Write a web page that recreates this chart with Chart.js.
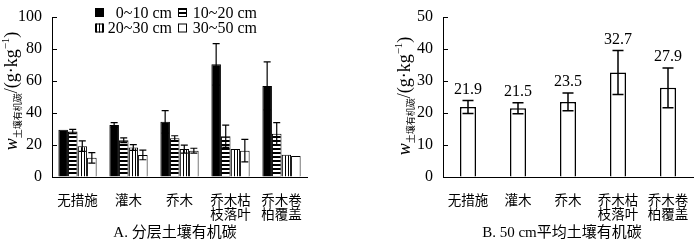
<!DOCTYPE html>
<html lang="zh">
<head>
<meta charset="utf-8">
<title>土壤有机碳</title>
<script src="https://cdn.jsdelivr.net/npm/chart.js@4.4.1/dist/chart.umd.min.js"></script>
<style>
  html, body { margin: 0; padding: 0; background: #fff; }
  #wrap { display: flex; width: 700px; height: 241px; }
  canvas { display: block; }
</style>
</head>
<body>
<div id="wrap">
  <canvas id="chartA" width="350" height="241"></canvas>
  <canvas id="chartB" width="350" height="241"></canvas>
</div>
<script>
"use strict";

// categories
const treatments = ["无措施", "灌木", "乔木", ["乔木枯", "枝落叶"], ["乔木卷", "柏覆盖"]];
const depthLabels = ["0~10 cm", "10~20 cm", "20~30 cm", "30~50 cm"];

// A. layered soil organic carbon (g/kg) and error bars
const soc0to10 = [29.5, 32.5, 34.5, 70.5, 57];
const soc0to10Err = [0, 1.5, 7, 13, 15];
const soc10to20 = [28.5, 23, 24.3, 25.5, 27];
const soc10to20Err = [1.3, 1.5, 1.5, 7, 7];
const soc20to30 = [19.3, 18.5, 17.5, 17.5, 14];
const soc20to30Err = [3.3, 1.8, 2.5, 0, 0];
const soc30to50 = [12, 13.8, 16.5, 16.5, 13.2];
const soc30to50Err = [3.3, 3, 1.5, 7, 0];

// B. 50 cm mean soil organic carbon
const socMean = [21.9, 21.5, 23.5, 32.7, 27.9];
const socMeanErr = [2.0, 1.7, 2.8, 6.9, 6.2];

// ticks
const ticksA = { min: 0, max: 100, step: 20 };
const ticksB = { min: 0, max: 50, step: 10 };

const serif = "'Liberation Serif', 'Noto Sans CJK SC', serif";

Chart.defaults.color = "#000";
Chart.defaults.font.family = serif;

function makePattern(kind) {
  const c = document.createElement("canvas");
  const g = c.getContext("2d");
  if (kind === "h") {
    c.width = 4; c.height = 4;
    g.fillStyle = "#fff"; g.fillRect(0, 0, 4, 4);
    g.fillStyle = "#000"; g.fillRect(0, 0, 4, 2);
  } else {
    c.width = 3; c.height = 3;
    g.fillStyle = "#fff"; g.fillRect(0, 0, 3, 3);
    g.fillStyle = "#000"; g.fillRect(0, 0, 1, 3);
  }
  return g.createPattern(c, "repeat");
}

const fills = ["#000", makePattern("h"), makePattern("v"), "#fff"];

// error bars drawn with the chart's own y scale
const errorBarPlugin = {
  id: "errorBars",
  afterDatasetsDraw(chart, args, opts) {
    const ctx = chart.ctx;
    const y = chart.scales.y;
    ctx.save();
    ctx.strokeStyle = "#000";
    ctx.lineWidth = opts.lineWidth;
    chart.data.datasets.forEach((ds, i) => {
      const meta = chart.getDatasetMeta(i);
      meta.data.forEach((bar, j) => {
        const e = opts.errors[i][j];
        if (!e) return;
        const top = y.getPixelForValue(ds.data[j] + e);
        const bot = y.getPixelForValue(ds.data[j] - e);
        const w = opts.capWidth / 2;
        ctx.beginPath();
        ctx.moveTo(bar.x, top); ctx.lineTo(bar.x, bot);
        ctx.moveTo(bar.x - w, top); ctx.lineTo(bar.x + w, top);
        ctx.moveTo(bar.x - w, bot); ctx.lineTo(bar.x + w, bot);
        ctx.stroke();
      });
    });
    ctx.restore();
  }
};

// inward tick marks on the y axis
const innerTickPlugin = {
  id: "innerTicks",
  afterDraw(chart) {
    const ctx = chart.ctx;
    const y = chart.scales.y;
    const left = chart.chartArea.left;
    ctx.save();
    ctx.strokeStyle = "#000";
    ctx.lineWidth = 1;
    y.ticks.forEach((t) => {
      const py = Math.round(y.getPixelForValue(t.value)) + 0.5;
      ctx.beginPath();
      ctx.moveTo(left, py); ctx.lineTo(left + 5, py);
      ctx.stroke();
    });
    ctx.restore();
  }
};

// rotated y title: w 土壤有机碳 /(g·kg-1)
const yTitlePlugin = {
  id: "yTitle",
  afterDraw(chart, args, opts) {
    const ctx = chart.ctx;
    const parts = [
      { t: "w", f: "italic 18px " + serif, dy: 0 },
      { t: "土壤有机碳", f: "9px 'Noto Sans CJK SC'", dy: 4 },
      { t: "/(g·kg", f: "18px " + serif, dy: 0 },
      { t: "−1", f: "11px " + serif, dy: -8 },
      { t: ")", f: "18px " + serif, dy: 0 }
    ];
    ctx.save();
    let total = 0;
    parts.forEach((p) => { ctx.font = p.f; p.w = ctx.measureText(p.t).width; total += p.w; });
    ctx.translate(opts.x, opts.y);
    ctx.rotate(-Math.PI / 2);
    ctx.fillStyle = "#000";
    ctx.textBaseline = "alphabetic";
    let x = -total / 2;
    parts.forEach((p) => {
      ctx.font = p.f;
      ctx.fillText(p.t, x, p.dy);
      x += p.w;
    });
    ctx.restore();
  }
};

// panel caption under the axis, centred on the canvas
const captionPlugin = {
  id: "caption",
  afterDraw(chart, args, opts) {
    const ctx = chart.ctx;
    ctx.save();
    ctx.font = "15px " + serif;
    ctx.fillStyle = "#000";
    ctx.textAlign = "center";
    ctx.textBaseline = "middle";
    ctx.fillText(opts.text, opts.x, opts.y);
    ctx.restore();
  }
};

// two-by-two legend inside panel A
const legendPlugin = {
  id: "gridLegend",
  afterDraw(chart, args, opts) {
    const ctx = chart.ctx;
    ctx.save();
    ctx.font = "16px " + serif;
    ctx.textBaseline = "middle";
    ctx.textAlign = "right";
    chart.data.datasets.forEach((ds, i) => {
      const col = i % 2, row = Math.floor(i / 2);
      const bx = opts.boxX[col], cy = opts.rowY[row];
      ctx.fillStyle = ds.backgroundColor;
      ctx.fillRect(bx, cy - 4.5, 9, 9);
      ctx.strokeStyle = "#000";
      ctx.lineWidth = 1;
      ctx.strokeRect(bx + 0.5, cy - 4, 8, 8);
      ctx.fillStyle = "#000";
      ctx.fillText(ds.label, opts.textEnd[col], cy + 1);
    });
    ctx.restore();
  }
};

// value labels over panel B
const valueLabelPlugin = {
  id: "valueLabels",
  afterDatasetsDraw(chart, args, opts) {
    const ctx = chart.ctx;
    const y = chart.scales.y;
    const ds = chart.data.datasets[0];
    ctx.save();
    ctx.font = "16px " + serif;
    ctx.fillStyle = "#000";
    ctx.textAlign = "center";
    ctx.textBaseline = "bottom";
    chart.getDatasetMeta(0).data.forEach((bar, j) => {
      const top = y.getPixelForValue(ds.data[j] + opts.errors[j]);
      ctx.fillText(ds.data[j].toFixed(1), bar.x, top - 3);
    });
    ctx.restore();
  }
};

function scales(t, yWidth) {
  return {
    x: {
      grid: { display: false },
      border: { display: true, color: "#000", width: 1 },
      ticks: { font: { size: 13.5, family: serif, lineHeight: 1.05 }, padding: 9, maxRotation: 0, autoSkip: false, color: "#000" },
      afterFit(s) { s.height = 64; }
    },
    y: {
      min: t.min,
      max: t.max,
      grid: { display: true, drawOnChartArea: false, drawTicks: false },
      border: { display: true, color: "#000", width: 1 },
      ticks: { stepSize: t.step, font: { size: 16, family: serif, lineHeight: 0.9 }, padding: 10, color: "#000" },
      afterFit(s) { s.width = yWidth; }
    }
  };
}

function drawLayered() {
  const values = [soc0to10, soc10to20, soc20to30, soc30to50];
  new Chart(document.getElementById("chartA"), {
    type: "bar",
    data: {
      labels: treatments,
      datasets: values.map((v, i) => ({
        label: depthLabels[i],
        data: v,
        backgroundColor: fills[i],
        borderColor: "#000",
        borderWidth: 1,
        barPercentage: 1,
        categoryPercentage: 0.75
      }))
    },
    options: {
      responsive: false,
      animation: false,
      devicePixelRatio: 1,
      layout: { padding: { left: 0, right: 43, top: 0, bottom: 0 } },
      scales: scales(ticksA, 52),
      plugins: {
        legend: { display: false },
        tooltip: { enabled: false },
        title: { display: false },
        caption: { text: "A. 分层土壤有机碳", x: 175, y: 233 },
        errorBars: { errors: [soc0to10Err, soc10to20Err, soc20to30Err, soc30to50Err], capWidth: 7, lineWidth: 1.2 },
        yTitle: { x: 17, y: 91 },
        gridLegend: { boxX: [95, 178], textEnd: [172, 257], rowY: [12.5, 28] }
      }
    },
    plugins: [errorBarPlugin, innerTickPlugin, yTitlePlugin, legendPlugin, captionPlugin]
  });
}

function drawMean() {
  new Chart(document.getElementById("chartB"), {
    type: "bar",
    data: {
      labels: treatments,
      datasets: [{
        label: "50 cm",
        data: socMean,
        backgroundColor: "#fff",
        borderColor: "#000",
        borderWidth: 1.5,
        barPercentage: 1,
        categoryPercentage: 0.32
      }]
    },
    options: {
      responsive: false,
      animation: false,
      devicePixelRatio: 1,
      layout: { padding: { left: 0, right: 7, top: 0, bottom: 0 } },
      scales: scales(ticksB, 93),
      plugins: {
        legend: { display: false },
        tooltip: { enabled: false },
        title: { display: false },
        caption: { text: "B. 50 cm平均土壤有机碳", x: 212, y: 233 },
        errorBars: { errors: [socMeanErr], capWidth: 11, lineWidth: 1.5 },
        valueLabels: { errors: socMeanErr },
        yTitle: { x: 60, y: 96 }
      }
    },
    plugins: [errorBarPlugin, innerTickPlugin, yTitlePlugin, valueLabelPlugin, captionPlugin]
  });
}

window.addEventListener("DOMContentLoaded", () => {
  drawLayered();
  drawMean();
});
</script>
</body>
</html>
